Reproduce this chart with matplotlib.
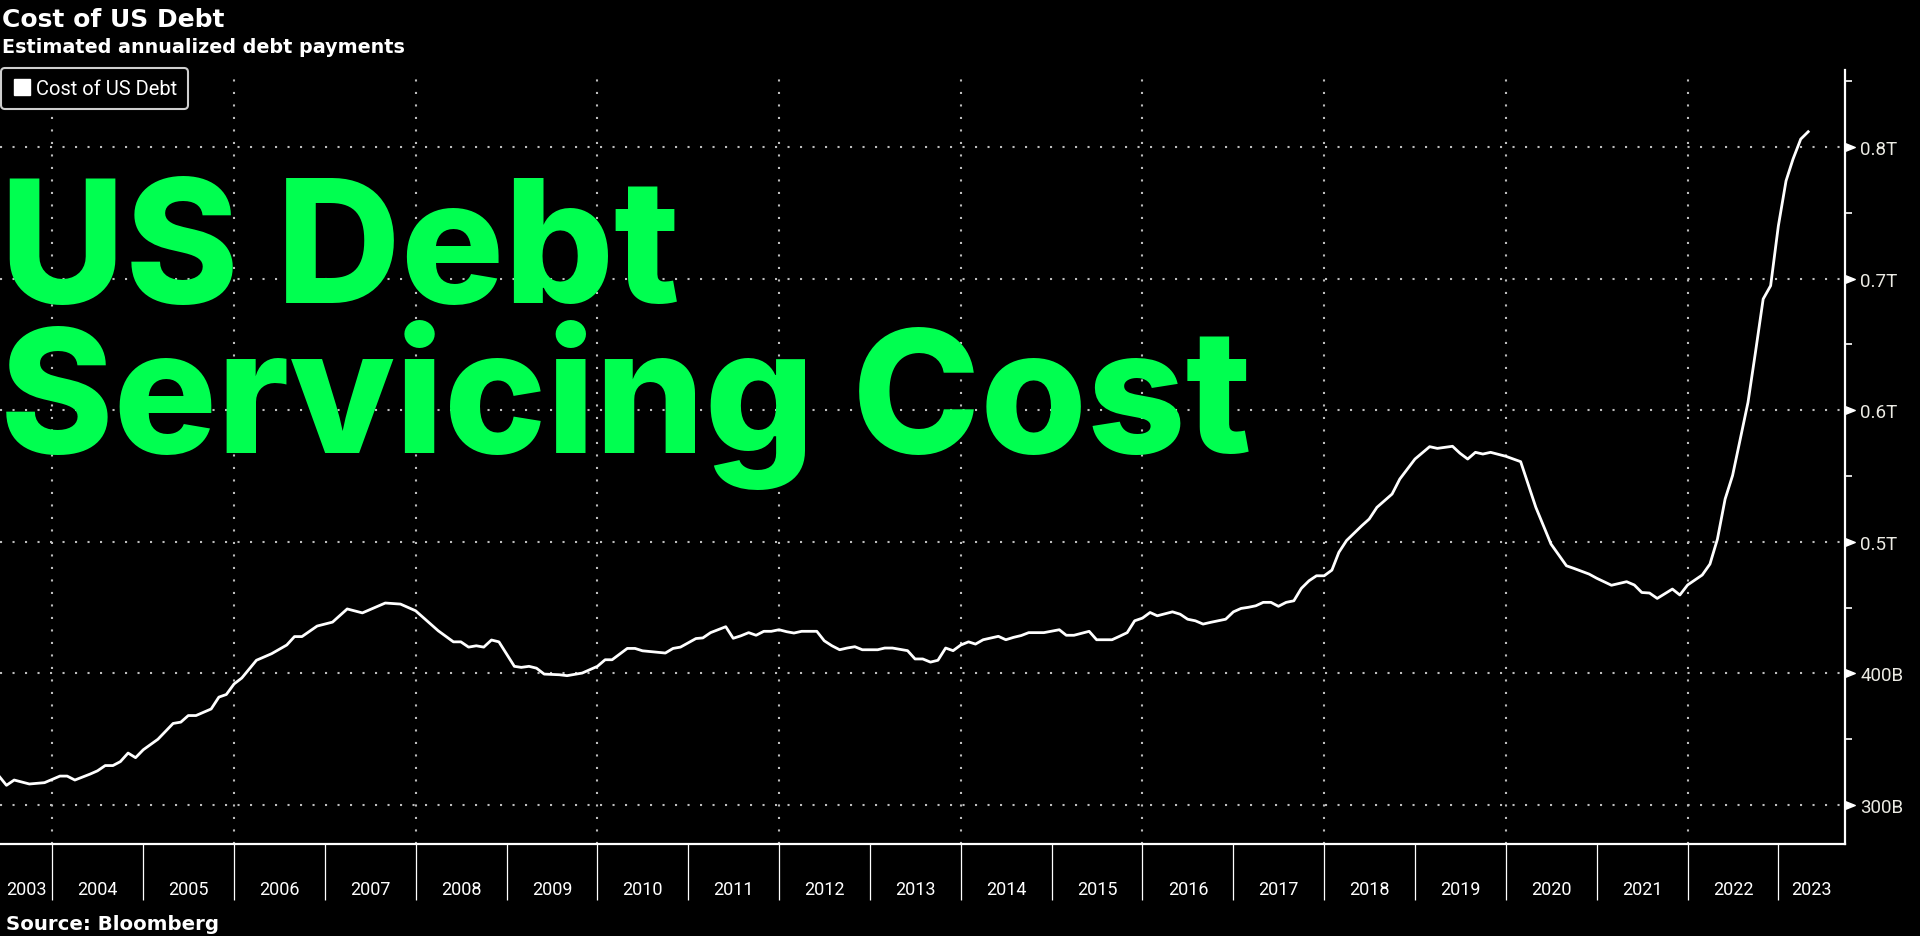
import matplotlib.pyplot as plt
import matplotlib.dates as mdates
from matplotlib.lines import Line2D
from matplotlib.path import Path
import pandas as pd

# monthly readings of the Bloomberg line (billions of USD)
months = [
    '2003-06', '2003-07', '2003-08', '2003-10', '2003-12',
    '2004-02', '2004-03', '2004-04', '2004-06', '2004-07', '2004-08', '2004-09', '2004-10', '2004-11', '2004-12',
    '2005-01', '2005-03', '2005-05', '2005-06', '2005-07', '2005-08', '2005-10', '2005-11', '2005-12',
    '2006-01', '2006-02', '2006-04', '2006-06', '2006-08', '2006-09', '2006-10', '2006-12',
    '2007-02', '2007-04', '2007-06', '2007-09', '2007-11',
    '2008-01', '2008-04', '2008-06', '2008-07', '2008-08', '2008-09', '2008-10', '2008-11', '2008-12',
    '2009-02', '2009-03', '2009-04', '2009-05', '2009-06', '2009-08', '2009-09', '2009-11',
    '2010-01', '2010-02', '2010-03', '2010-05', '2010-06', '2010-07', '2010-09', '2010-10', '2010-11', '2010-12',
    '2011-02', '2011-03', '2011-04', '2011-06', '2011-07', '2011-08', '2011-09', '2011-10', '2011-11', '2011-12',
    '2012-01', '2012-02', '2012-03', '2012-04', '2012-06', '2012-07', '2012-08', '2012-09', '2012-10', '2012-11', '2012-12',
    '2013-02', '2013-03', '2013-04', '2013-06', '2013-07', '2013-08', '2013-09', '2013-10', '2013-11', '2013-12',
    '2014-01', '2014-02', '2014-03', '2014-04', '2014-06', '2014-07', '2014-08', '2014-09', '2014-10', '2014-12',
    '2015-02', '2015-03', '2015-04', '2015-06', '2015-07', '2015-09', '2015-10', '2015-11', '2015-12',
    '2016-01', '2016-02', '2016-03', '2016-05', '2016-06', '2016-07', '2016-08', '2016-09', '2016-10', '2016-12',
    '2017-01', '2017-02', '2017-03', '2017-04', '2017-05', '2017-06', '2017-07', '2017-08', '2017-09', '2017-10', '2017-11', '2017-12',
    '2018-01', '2018-02', '2018-03', '2018-04', '2018-06', '2018-07', '2018-08', '2018-10', '2018-11',
    '2019-01', '2019-03', '2019-04', '2019-06', '2019-07', '2019-08', '2019-09', '2019-10', '2019-11',
    '2020-01', '2020-03', '2020-05', '2020-07', '2020-09', '2020-10', '2020-12',
    '2021-01', '2021-03', '2021-05', '2021-06', '2021-07', '2021-08', '2021-09', '2021-11', '2021-12',
    '2022-01', '2022-03', '2022-04', '2022-05', '2022-06', '2022-07', '2022-09', '2022-10', '2022-11', '2022-12',
    '2023-01', '2023-02', '2023-03', '2023-04', '2023-05',
]
cost_bn = [
    322, 315, 319, 316, 317,
    322, 322, 319, 323.5, 326, 330, 330, 333, 339.5, 336,
    342, 350, 362, 363, 368, 368, 373, 382, 384,
    392, 396.5, 410, 415, 421.6, 428, 428, 436,
    439, 449, 446, 453.5, 452.7,
    447.6, 432.4, 424, 424, 420, 421, 420, 425.4, 424,
    405.4, 404.6, 405.4, 404, 399.5, 399, 398.3, 400.3,
    405.4, 410.4, 410.4, 419, 419, 417.2, 416, 415.5, 419, 420,
    426.5, 427, 431, 435.5, 426.7, 428.6, 431, 429, 432, 432,
    433.2, 431.7, 430.7, 432, 432, 424.8, 421, 418, 419.3, 420.3, 418,
    418, 419.3, 419.3, 417.3, 411, 411, 408.6, 410, 419.3, 417.3,
    421.6, 424, 422.3, 425.6, 428.2, 425.6, 427.4, 428.8, 431, 431,
    433.2, 429, 429, 432, 425.6, 425.6, 428.2, 431, 440,
    442, 446.3, 443.8, 446.8, 445, 441.2, 440, 437.5, 438.8, 441.2,
    446.8, 449.4, 450.2, 451.4, 454, 454, 451, 454, 455.2, 464.6, 470.4, 474.2,
    474.2, 478.5, 492, 501, 512.2, 517.3, 526.2, 536.3, 547.7,
    562.9, 572.3, 571, 572.6, 567.3, 562.9, 568, 566.7, 568,
    565, 560.9, 526.2, 498.3, 481.8, 479.8, 475.5,
    472.3, 467, 469.7, 467.2, 461.5, 461.1, 457, 464.1, 459.6,
    467.2, 474.8, 483.1, 502, 532.5, 550.4, 606, 644, 684.5, 694.6,
    740, 774.3, 790.8, 806, 811.6,
]

ytick_vals = [300, 400, 500, 600, 700, 800]
ytick_labels = ['300B', '400B', '0.5T', '0.6T', '0.7T', '0.8T']
yminor_vals = [350, 450, 550, 650, 750, 850]
year_labels = list(range(2003, 2024))
grid_years = list(range(2004, 2023, 2))

dates = pd.to_datetime(months)
x_start = pd.Timestamp('2003-06-05')
x_end = pd.Timestamp('2023-09-26')

GREEN = '#00ff50'
GRID = '#bdbdbd'

fig = plt.figure(figsize=(19.2, 9.37), dpi=100, facecolor='black')
ax = fig.add_axes([0, 1 - 845 / 937, 1845 / 1920, (845 - 71) / 937])
ax.set_facecolor('black')

ax.plot(dates, cost_bn, color='white', lw=2.0, zorder=3, solid_joinstyle='round')

ax.set_xlim(x_start, x_end)
ax.set_ylim(270.4, 858.5)

for s in ['left', 'top']:
    ax.spines[s].set_visible(False)
for s in ['bottom', 'right']:
    ax.spines[s].set_color('white')
    ax.spines[s].set_linewidth(1.6)

# right-hand value axis with little flag markers
ax.yaxis.tick_right()
ax.set_yticks(ytick_vals, ytick_labels)
ax.set_yticks(yminor_vals, minor=True)
ax.tick_params(axis='y', which='major', length=0, pad=11, labelsize=13.5,
               labelcolor='#ecebe4')
for t in ax.get_yticklabels():
    t.set_fontfamily('Roboto')
ax.tick_params(axis='y', which='minor', length=5, width=1.2, color='white',
               direction='out')
flag = Path([(0, -0.8), (2, 0), (0, 0.8), (0, -0.8)],
            [Path.MOVETO, Path.LINETO, Path.LINETO, Path.CLOSEPOLY])
ax.plot([1] * len(ytick_vals), ytick_vals, ls='none', marker=flag, markersize=14,
        color='white', transform=ax.get_yaxis_transform(), clip_on=False, zorder=5)

# yearly separators, labels centred in each visible year
ax.xaxis.set_major_locator(mdates.YearLocator())
ax.tick_params(axis='x', which='major', length=40, width=0.9, color='white',
               direction='out', labelbottom=False)
centers = []
for y in year_labels:
    a = max(pd.Timestamp(f'{y}-01-01'), x_start)
    b = min(pd.Timestamp(f'{y + 1}-01-01'), x_end)
    centers.append(a + (b - a) / 2)
ax.set_xticks(mdates.date2num(centers), [str(y) for y in year_labels], minor=True)
ax.tick_params(axis='x', which='minor', length=0, pad=26, labelsize=13,
               labelcolor='white')
for t in ax.get_xticklabels(minor=True):
    t.set_fontfamily('Roboto')

# dotted grid
ax.grid(axis='y', which='major', color=GRID, ls=(0, (1, 5)), lw=1.5)
for y in grid_years:
    ax.axvline(pd.Timestamp(f'{y}-01-01'), color=GRID, ls=(0, (1, 5)), lw=1.5, zorder=1)

# titles
fig.text(0.001, 1 - 27 / 937, 'Cost of US Debt', color='white', fontsize=18,
         fontweight='bold', va='baseline', ha='left')
fig.text(0.001, 1 - 53 / 937, 'Estimated annualized debt payments', color='white',
         fontsize=13.8, fontweight='bold', va='baseline', ha='left')
fig.text(0.003, 1 - 930 / 937, 'Source: Bloomberg', color='white', fontsize=14.2,
         fontweight='bold', va='baseline', ha='left')

# legend
h = Line2D([], [], marker='s', color='white', ls='none', markersize=12)
leg = fig.legend([h], ['Cost of US Debt'], loc='upper left',
                 bbox_to_anchor=(0.0003, 1 - 69 / 937), borderaxespad=0,
                 frameon=True, facecolor='black', edgecolor='#cfcfcf', fancybox=True,
                 labelcolor='white', handletextpad=0.2, borderpad=0.55,
                 handlelength=1.0, prop={'family': 'Roboto', 'size': 14.5})
leg.get_frame().set_linewidth(1.5)
leg.get_frame().set_alpha(1)

# big green overlay (one text, two lines; baseline = last line)
fig.text(0.0, 1 - 453 / 937, 'US Debt\nServicing Cost', color=GREEN, fontsize=124,
         fontfamily='Inter', fontweight='extra bold', va='baseline', ha='left',
         multialignment='left', linespacing=0.868, zorder=10)

fig.savefig('out.png', dpi=100, facecolor='black')
